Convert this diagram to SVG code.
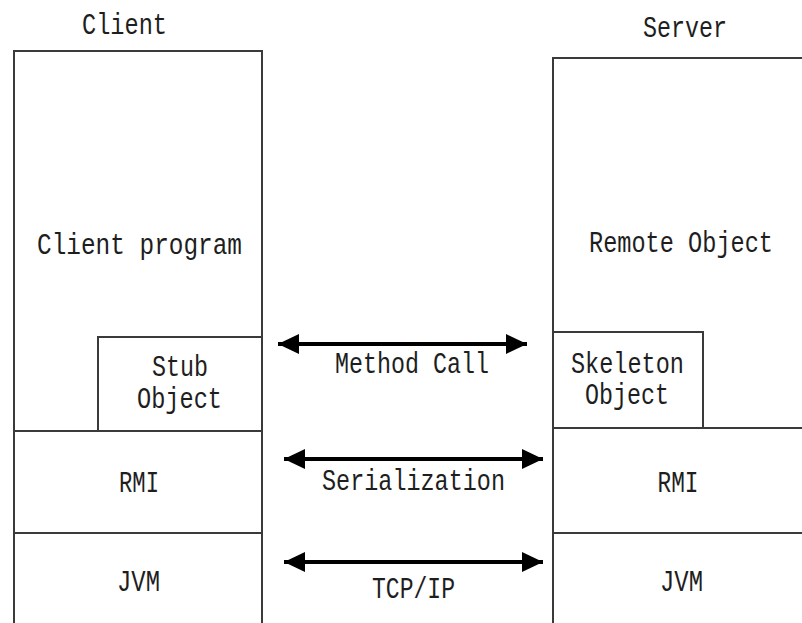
<svg xmlns="http://www.w3.org/2000/svg" width="802" height="623" viewBox="0 0 802 623">
  <style>
    .box { fill: none; stroke: #3a3a3a; stroke-width: 2; }
    .lbl { font-family: "Liberation Mono", "DejaVu Sans Mono", monospace; font-size: 29px; fill: #1e1e1e; text-anchor: middle; }
    .link { stroke: #000; stroke-width: 4; fill: none; marker-start: url(#head); marker-end: url(#head); }
  </style>
  <defs>
    <marker id="head" markerUnits="userSpaceOnUse" markerWidth="22" markerHeight="22" viewBox="0 0 22 22" refX="21" refY="11" orient="auto-start-reverse">
      <path d="M0,1 L21,11 L0,21 Z" fill="#000"/>
    </marker>
  </defs>
  <rect width="802" height="623" fill="#fff"/>

  <!-- client side stack (open at the bottom edge) -->
  <g id="client">
    <text class="lbl" x="124.5" y="34" textLength="85" lengthAdjust="spacingAndGlyphs">Client</text>
    <path class="box" d="M14,623 V51 H262 V623"/>
    <text class="lbl" x="139.5" y="254" textLength="205" lengthAdjust="spacingAndGlyphs">Client program</text>
  </g>
  <g id="stub">
    <rect class="box" x="98" y="337" width="164" height="94"/>
    <text class="lbl" x="180" y="376" textLength="56" lengthAdjust="spacingAndGlyphs">Stub</text>
    <text class="lbl" x="179.5" y="408" textLength="85" lengthAdjust="spacingAndGlyphs">Object</text>
  </g>
  <g id="client-rmi">
    <line class="box" x1="14" y1="431" x2="262" y2="431"/>
    <text class="lbl" x="139" y="492" textLength="40" lengthAdjust="spacingAndGlyphs">RMI</text>
  </g>
  <g id="client-jvm">
    <line class="box" x1="14" y1="533" x2="262" y2="533"/>
    <text class="lbl" x="138.5" y="591" textLength="43" lengthAdjust="spacingAndGlyphs">JVM</text>
  </g>

  <!-- server side stack (open at the right and bottom edges) -->
  <g id="server">
    <text class="lbl" x="685" y="37" textLength="84" lengthAdjust="spacingAndGlyphs">Server</text>
    <path class="box" d="M802,58 H553 V623"/>
    <text class="lbl" x="681" y="252" textLength="184" lengthAdjust="spacingAndGlyphs">Remote Object</text>
  </g>
  <g id="skeleton">
    <rect class="box" x="553" y="332" width="150" height="96"/>
    <text class="lbl" x="627.5" y="373" textLength="113" lengthAdjust="spacingAndGlyphs">Skeleton</text>
    <text class="lbl" x="627" y="404" textLength="84" lengthAdjust="spacingAndGlyphs">Object</text>
  </g>
  <g id="server-rmi">
    <line class="box" x1="553" y1="428" x2="802" y2="428"/>
    <text class="lbl" x="678" y="492" textLength="41" lengthAdjust="spacingAndGlyphs">RMI</text>
  </g>
  <g id="server-jvm">
    <line class="box" x1="553" y1="533" x2="802" y2="533"/>
    <text class="lbl" x="681.5" y="591" textLength="43" lengthAdjust="spacingAndGlyphs">JVM</text>
  </g>

  <!-- connections between the two stacks -->
  <g id="connectors">
    <line class="link" x1="278" y1="344" x2="527" y2="344"/>
    <text class="lbl" x="412" y="373" textLength="154" lengthAdjust="spacingAndGlyphs">Method Call</text>
    <line class="link" x1="284" y1="459" x2="543" y2="459"/>
    <text class="lbl" x="413.5" y="490" textLength="183" lengthAdjust="spacingAndGlyphs">Serialization</text>
    <line class="link" x1="284" y1="562" x2="543" y2="562"/>
    <text class="lbl" x="413.5" y="598" textLength="83" lengthAdjust="spacingAndGlyphs">TCP/IP</text>
  </g>
</svg>
